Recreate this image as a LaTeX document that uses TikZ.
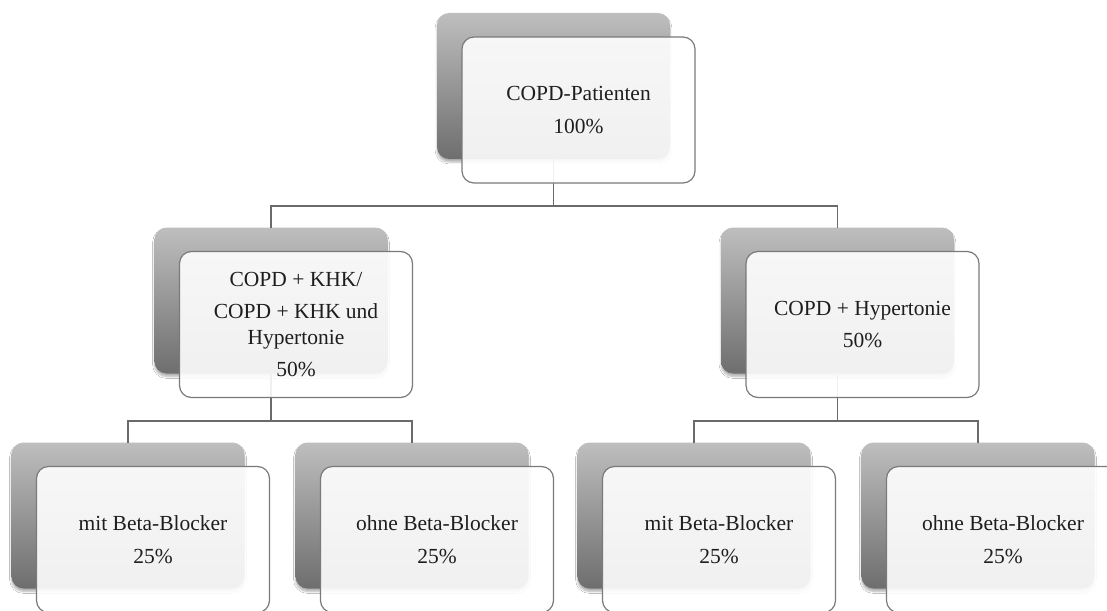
\documentclass[tikz,border=0pt]{standalone}
\usepackage{fontspec}
\setmainfont{Liberation Serif}
\usetikzlibrary{shadows.blur}
\definecolor{graytop}{HTML}{BEBEBE}
\definecolor{graybot}{HTML}{6E6E6E}
\definecolor{boxborder}{HTML}{7A7A7A}
\definecolor{linecol}{HTML}{6A6A6A}
\definecolor{txtcol}{HTML}{1E1E1E}
\tikzset{
  backbox/.style={rectangle, rounded corners=12pt, minimum width=233pt, minimum height=146pt,
    inner sep=0pt, outer sep=0pt, top color=graytop, bottom color=graybot,
    blur shadow={shadow xshift=0pt, shadow yshift=-3pt, shadow blur steps=6, shadow opacity=30}},
  frontbox/.style={rectangle, rounded corners=12pt, minimum width=233pt, minimum height=146pt,
    inner sep=0pt, outer sep=0pt, draw=boxborder, line width=1.2pt, fill=white, fill opacity=0.9,
    text opacity=1, align=center, text=txtcol, xshift=25pt, yshift=-24pt,
    font=\fontsize{21.5}{25.5}\selectfont},
  conn/.style={draw=linecol, line width=1.3pt}
}
\begin{document}
\begin{tikzpicture}[x=1pt,y=-1pt]
\clip (0,0) rectangle (1107,610);
\fill[white] (0,0) rectangle (1107,610);
% back boxes
\node[backbox] (g0) at (553.5,86) {};
\node[backbox] (g1) at (271,300.5) {};
\node[backbox] (g2) at (837.5,300.5) {};
\node[backbox] (g3) at (128,515.5) {};
\node[backbox] (g4) at (412,515.5) {};
\node[backbox] (g5) at (694,515.5) {};
\node[backbox] (g6) at (978,515.5) {};
% connectors
\coordinate (bus0) at (553.5,206);
\coordinate (bus1) at (271,421);
\coordinate (bus2) at (837.5,421);
\draw[conn] (g0.south) -- (bus0) -| (g1.north);
\draw[conn] (bus0) -| (g2.north);
\draw[conn] (g1.south) -- (bus1) -| (g3.north);
\draw[conn] (bus1) -| (g4.north);
\draw[conn] (g2.south) -- (bus2) -| (g5.north);
\draw[conn] (bus2) -| (g6.north);
% front boxes
\node[frontbox] (f0) at (g0.center) {COPD-Patienten\\[7pt]100\%};
\node[frontbox] (f1) at (g1.center) {COPD + KHK/\\[7pt]COPD + KHK und\\Hypertonie\\[7pt]50\%};
\node[frontbox] (f2) at (g2.center) {COPD + Hypertonie\\[7pt]50\%};
\node[frontbox] (f3) at (g3.center) {mit Beta-Blocker\\[7pt]25\%};
\node[frontbox] (f4) at (g4.center) {ohne Beta-Blocker\\[7pt]25\%};
\node[frontbox] (f5) at (g5.center) {mit Beta-Blocker\\[7pt]25\%};
\node[frontbox] (f6) at (g6.center) {ohne Beta-Blocker\\[7pt]25\%};
\end{tikzpicture}
\end{document}
